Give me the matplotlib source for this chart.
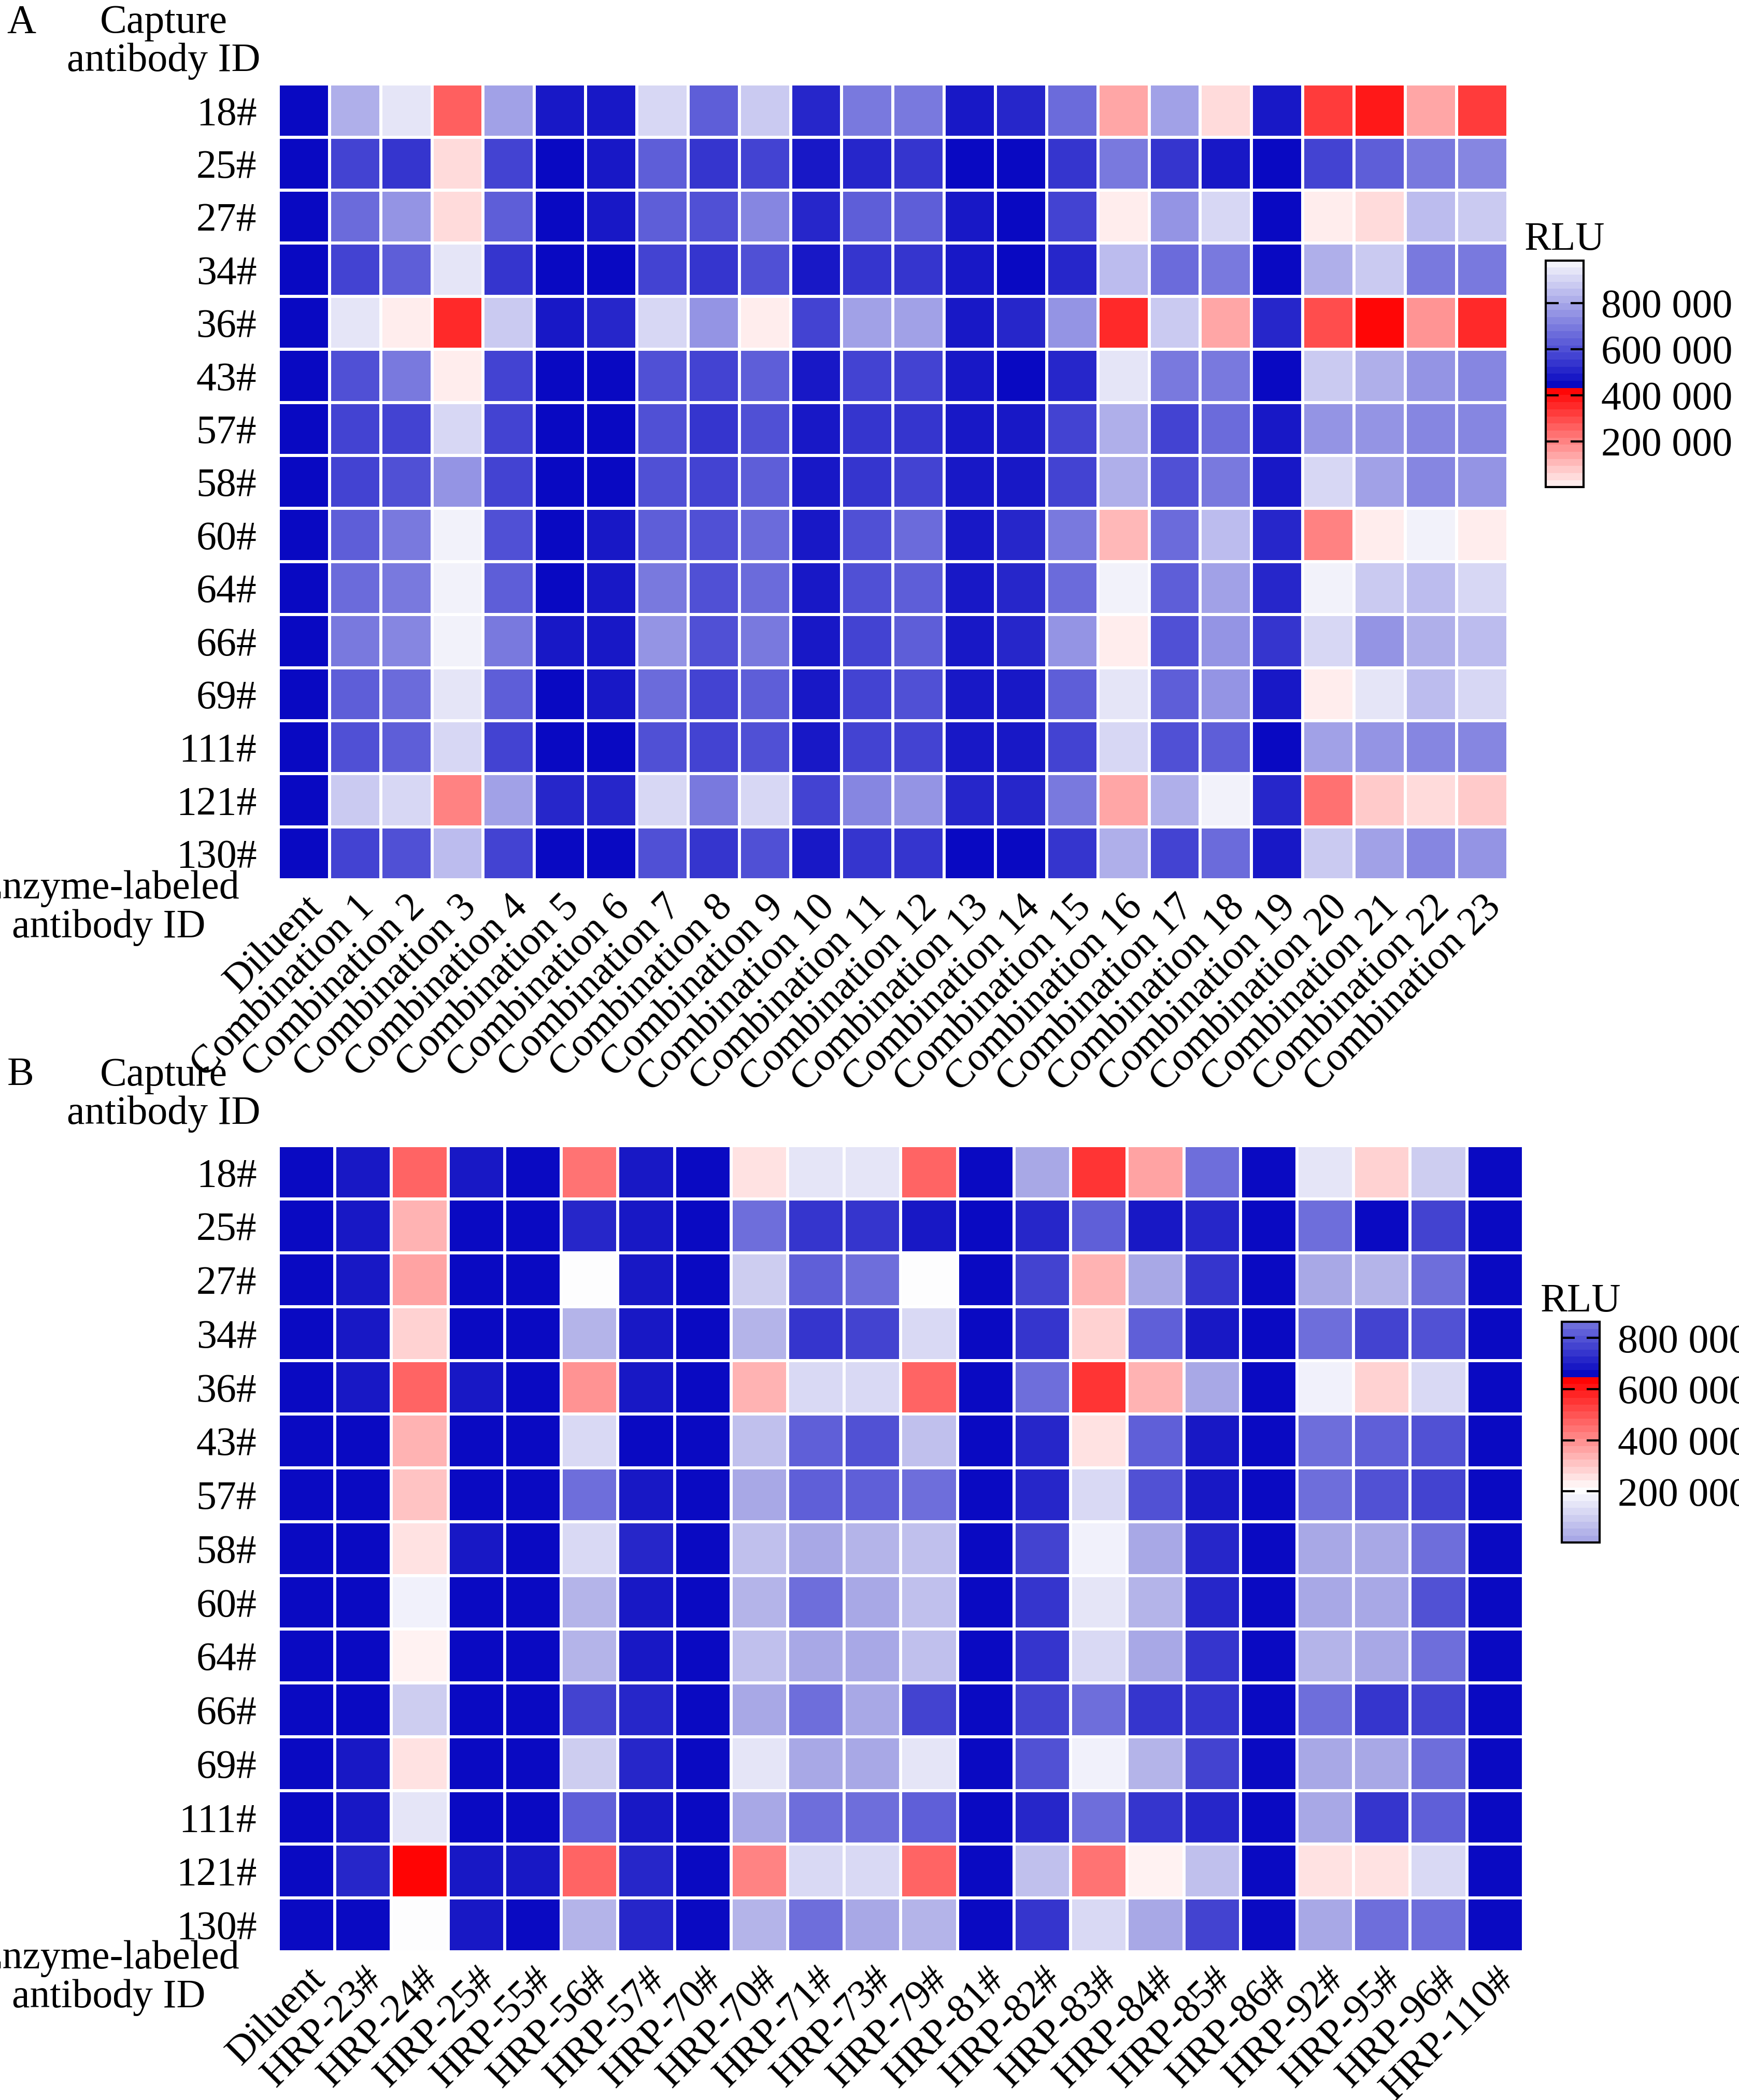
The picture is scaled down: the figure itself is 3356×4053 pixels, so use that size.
import matplotlib.pyplot as plt
import numpy as np
from matplotlib.colors import LinearSegmentedColormap
from matplotlib.ticker import FuncFormatter

plt.rcParams['font.family'] = ['Liberation Serif', 'DejaVu Serif']

rows = ['18#', '25#', '27#', '34#', '36#', '43#', '57#', '58#', '60#', '64#',
        '66#', '69#', '111#', '121#', '130#']

cols_a = ['Diluent'] + ['Combination %d' % i for i in range(1, 24)]
cols_b = ['Diluent', 'HRP-23#', 'HRP-24#', 'HRP-25#', 'HRP-55#', 'HRP-56#', 'HRP-57#',
          'HRP-70#', 'HRP-70#', 'HRP-71#', 'HRP-73#', 'HRP-79#', 'HRP-81#', 'HRP-82#',
          'HRP-83#', 'HRP-84#', 'HRP-85#', 'HRP-86#', 'HRP-92#', 'HRP-95#', 'HRP-96#',
          'HRP-110#']

# RLU values in thousands
rlu_a = [
    [445, 820, 950, 270, 800, 470, 490, 900, 640, 880, 520, 690, 700, 480, 500, 650, 130, 800, 50, 490, 330, 400, 150, 330],
    [445, 580, 540, 60, 570, 450, 470, 620, 540, 560, 470, 500, 530, 460, 450, 540, 700, 530, 490, 440, 560, 620, 700, 720],
    [445, 650, 760, 40, 640, 450, 470, 640, 590, 730, 500, 620, 640, 470, 460, 580, 10, 760, 900, 460, 20, 50, 860, 880],
    [445, 560, 620, 930, 550, 450, 460, 570, 540, 590, 480, 540, 540, 470, 460, 520, 850, 650, 680, 450, 830, 880, 700, 680],
    [445, 950, 25, 350, 870, 480, 500, 920, 750, 5, 580, 780, 800, 490, 520, 740, 360, 870, 150, 500, 290, 420, 170, 350],
    [445, 600, 700, 10, 580, 450, 460, 600, 560, 630, 480, 560, 570, 470, 460, 520, 930, 680, 700, 460, 870, 830, 740, 720],
    [445, 560, 580, 900, 570, 450, 460, 590, 540, 590, 470, 540, 550, 470, 470, 570, 830, 580, 660, 470, 750, 760, 720, 720],
    [445, 570, 600, 760, 570, 450, 460, 600, 560, 620, 480, 550, 560, 470, 470, 570, 820, 600, 690, 470, 920, 780, 730, 770],
    [445, 620, 680, 960, 590, 460, 470, 640, 600, 660, 490, 600, 650, 480, 500, 680, 110, 670, 850, 510, 190, 10, 980, 10],
    [445, 660, 690, 985, 620, 460, 470, 680, 600, 660, 490, 590, 620, 480, 500, 650, 985, 640, 790, 500, 985, 870, 840, 900],
    [445, 700, 720, 985, 700, 470, 480, 760, 610, 680, 490, 580, 620, 490, 520, 750, 30, 610, 750, 530, 920, 760, 830, 860],
    [445, 640, 660, 930, 620, 460, 470, 670, 580, 640, 490, 580, 600, 480, 490, 640, 950, 620, 750, 490, 10, 930, 850, 900],
    [445, 610, 620, 910, 580, 450, 460, 610, 570, 610, 480, 560, 570, 470, 470, 560, 900, 590, 640, 460, 780, 740, 730, 730],
    [445, 880, 910, 190, 800, 500, 510, 920, 680, 920, 560, 730, 740, 510, 520, 680, 130, 820, 985, 500, 220, 70, 40, 80],
    [445, 580, 600, 850, 570, 450, 460, 600, 540, 590, 480, 530, 540, 460, 460, 550, 830, 560, 650, 470, 880, 780, 710, 760],
]

rlu_b = [
    [655, 700, 480, 680, 665, 450, 700, 655, 260, 140, 140, 470, 655, 20, 540, 370, 860, 655, 150, 290, 100, 655],
    [655, 680, 350, 655, 655, 710, 680, 655, 860, 740, 730, 700, 655, 710, 820, 690, 710, 655, 860, 670, 780, 655],
    [655, 680, 360, 670, 665, 200, 690, 655, 100, 830, 860, 200, 655, 760, 340, 10, 740, 655, 20, 40, 860, 655],
    [655, 680, 290, 670, 665, 40, 680, 655, 30, 740, 770, 120, 655, 730, 290, 810, 700, 655, 840, 780, 800, 655],
    [655, 690, 470, 680, 660, 400, 700, 655, 330, 130, 120, 470, 655, 850, 550, 330, 10, 655, 170, 290, 110, 655],
    [655, 670, 340, 665, 660, 120, 670, 655, 60, 820, 800, 80, 655, 720, 260, 810, 690, 655, 860, 820, 800, 655],
    [655, 670, 320, 665, 660, 860, 680, 655, 0, 830, 820, 870, 655, 720, 110, 800, 700, 655, 860, 800, 760, 655],
    [655, 670, 250, 680, 660, 120, 710, 655, 80, 20, 30, 80, 655, 760, 180, 10, 720, 655, 20, 0, 860, 655],
    [655, 670, 180, 670, 660, 30, 700, 655, 40, 860, 0, 70, 655, 740, 140, 30, 720, 655, 20, 0, 800, 655],
    [655, 670, 220, 670, 660, 30, 700, 655, 60, 0, 20, 70, 655, 740, 130, 0, 740, 655, 40, 20, 860, 655],
    [655, 670, 100, 670, 660, 780, 710, 655, 10, 860, 0, 770, 655, 760, 860, 740, 740, 655, 860, 740, 760, 655],
    [655, 680, 250, 670, 660, 100, 720, 655, 140, 20, 10, 140, 655, 800, 180, 40, 780, 655, 10, 0, 860, 655],
    [655, 680, 140, 670, 660, 820, 700, 655, 0, 860, 860, 830, 655, 720, 860, 730, 720, 655, 10, 730, 820, 655],
    [655, 710, 640, 690, 680, 460, 710, 655, 420, 130, 130, 460, 655, 60, 450, 230, 60, 655, 250, 260, 130, 655],
    [655, 670, 200, 690, 670, 40, 720, 655, 40, 860, 0, 40, 655, 740, 120, 0, 760, 655, 0, 860, 860, 655],
]

vmax_a, split_a = 986, 425
vmax_b, split_b = 863, 649

sa = split_a / vmax_a
cmap_a = LinearSegmentedColormap.from_list('rlu_a', [
    (0.0, (1.0, 0.93, 0.93)),
    (sa - 0.001, (1.0, 0.0, 0.0)),
    (sa, (0.0, 0.0, 0.75)),
    (sa + 0.25 * (1 - sa), (0.25, 0.25, 0.82)),
    (1.0, (0.95, 0.95, 0.98)),
], N=32)

sb = split_b / vmax_b
wb = 200 / vmax_b
cmap_b = LinearSegmentedColormap.from_list('rlu_b', [
    (0.0, (0.66, 0.66, 0.9)),
    (wb, (1.0, 1.0, 1.0)),
    (sb - 0.001, (1.0, 0.0, 0.0)),
    (sb, (0.0, 0.0, 0.75)),
    (1.0, (0.43, 0.43, 0.86)),
], N=32)

fig = plt.figure(figsize=(33.56, 40.53), dpi=100)
fs = 56


def heatmap(rect, data, cols, cmap, vmax, cbrect, ticks, letter, ly, ey):
    ax = fig.add_axes(rect)
    arr = np.array(data) * 1000.0
    mesh = ax.pcolormesh(arr, cmap=cmap, vmin=0, vmax=vmax * 1000, edgecolors='white', linewidth=3)
    ax.set_xlim(0, arr.shape[1])
    ax.set_ylim(arr.shape[0], 0)
    ax.set_xticks(np.arange(arr.shape[1]) + 0.5)
    ax.set_xticklabels(cols, rotation=45, ha='right', rotation_mode='anchor', fontsize=fs)
    ax.set_yticks(np.arange(arr.shape[0]) + 0.5)
    ax.set_yticklabels(rows, fontsize=fs)
    ax.tick_params(axis='y', length=0, pad=30)
    ax.tick_params(axis='x', length=0, pad=12)
    for s in ax.spines.values():
        s.set_visible(False)

    cax = fig.add_axes(cbrect)
    cb = fig.colorbar(mesh, cax=cax, ticks=np.array(ticks) * 1000)
    cb.ax.yaxis.set_major_formatter(FuncFormatter(lambda v, p: '{:,}'.format(int(round(v))).replace(',', ' ')))
    cb.outline.set_linewidth(3)
    cax.tick_params(direction='in', left=True, right=True, length=18, width=3, labelsize=fs, pad=25)
    cax.set_title('RLU', fontsize=fs, pad=15)

    fig.text(0.004, ly, letter, fontsize=fs, va='top')
    fig.text(0.094, ly, 'Capture\nantibody ID', fontsize=fs, va='top', ha='center', linespacing=1.05)
    fig.text(0.0625, ey, 'Enzyme-labeled\nantibody ID', fontsize=fs, ha='center', va='top', linespacing=1.05)
    return ax


heatmap([0.160, 0.581, 0.707, 0.379], rlu_a, cols_a, cmap_a, vmax_a,
        [0.889, 0.768, 0.0215, 0.108], [200, 400, 600, 800], 'A', 0.998, 1 - 1680 / 4053)
heatmap([0.160, 0.0706, 0.716, 0.384], rlu_b, cols_b, cmap_b, vmax_b,
        [0.898, 0.2655, 0.0218, 0.105], [200, 400, 600, 800], 'B', 1 - 2040 / 4053, 1 - 3745 / 4053)

fig.savefig('out.png', dpi=100)
